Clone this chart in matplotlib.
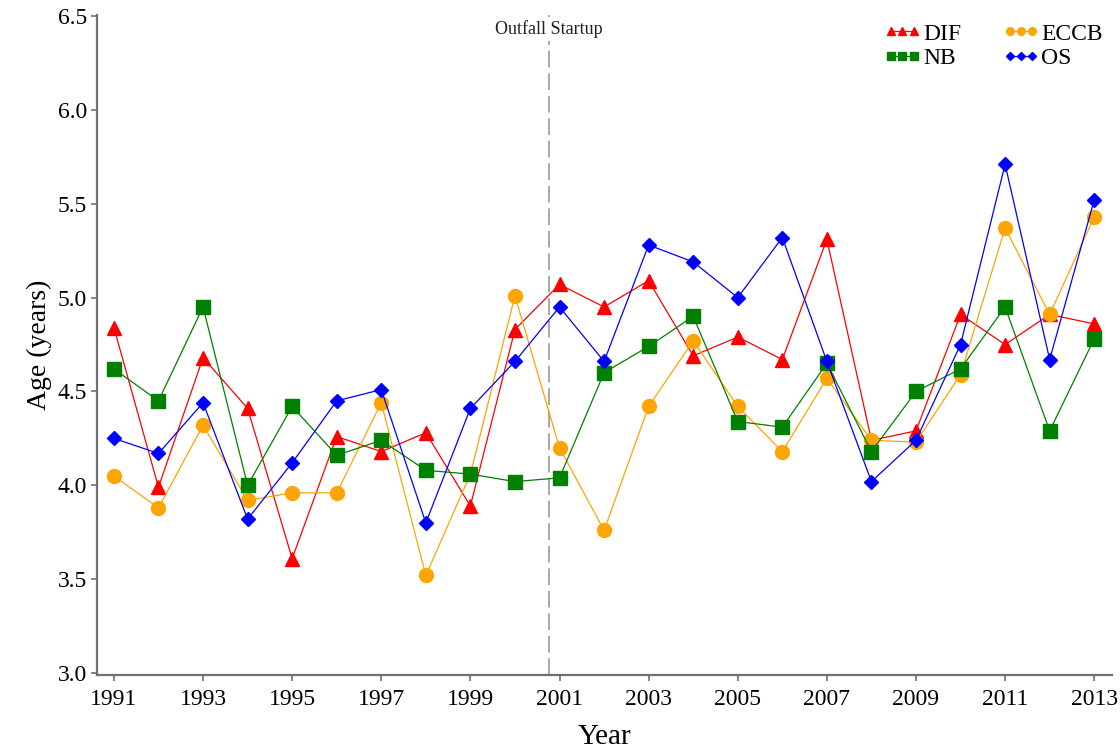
#!/usr/bin/env python3
"""mean age by station, 1991-2013"""
import numpy as np
import matplotlib
matplotlib.use("Agg")
import matplotlib.pyplot as plt
from matplotlib.lines import Line2D
from matplotlib.legend_handler import HandlerLine2D

years = np.arange(1991, 2014)

dif = [4.84, 3.99, 4.68, 4.41, 3.61, 4.26, 4.18, 4.28, 3.89, 4.83, 5.07, 4.95,
       5.09, 4.69, 4.79, 4.67, 5.31, 4.24, 4.29, 4.91, 4.75, 4.91, 4.86]
eccb = [4.05, 3.88, 4.32, 3.92, 3.96, 3.96, 4.44, 3.52, 4.06, 5.01, 4.20, 3.76,
        4.42, 4.77, 4.42, 4.18, 4.57, 4.24, 4.23, 4.59, 5.37, 4.91, 5.43]
nb = [4.62, 4.45, 4.95, 4.00, 4.42, 4.16, 4.24, 4.08, 4.06, 4.02, 4.04, 4.60,
      4.74, 4.90, 4.34, 4.31, 4.65, 4.18, 4.50, 4.62, 4.95, 4.29, 4.78]
os_ = [4.25, 4.17, 4.44, 3.82, 4.12, 4.45, 4.51, 3.80, 4.41, 4.66, 4.95, 4.66,
       5.28, 5.19, 5.00, 5.32, 4.66, 4.02, 4.24, 4.75, 5.71, 4.67, 5.52]

startup = 2000.77

plt.rcParams["font.family"] = ["Liberation Serif", "DejaVu Serif"]

fig = plt.figure(figsize=(11.2, 7.5), dpi=100)
ax = fig.add_axes([0.0866, 0.1, 0.9063, 0.88])

h_dif, = ax.plot(years, dif, color="red", marker="^", ms=10.5, lw=0.9,
                 label="DIF", zorder=3)
h_eccb, = ax.plot(years, eccb, color="orange", marker="o", ms=10, lw=0.9,
                  label="ECCB", zorder=3)
h_nb, = ax.plot(years, nb, color="green", marker="s", ms=9.5, lw=0.9,
                label="NB", zorder=3)
h_os, = ax.plot(years, os_, color="blue", marker="D", ms=7.5, lw=0.9,
                label="OS", zorder=3)

# vertical marker for the outfall start, label sits on a white patch
ax.axvline(startup, color="#999999", lw=1.2, ls=(0, (10, 3.5)), zorder=1)
ax.text(startup, 6.43, "Outfall Startup", ha="center", va="center",
        fontsize=13, color="#222222",
        bbox=dict(facecolor="white", edgecolor="none", pad=2), zorder=2)

ax.set_xlim(1990.62, 2013.4)
ax.set_ylim(2.99, 6.505)
ax.set_xticks(np.arange(1991, 2014, 2))
ax.set_yticks(np.arange(3.0, 6.51, 0.5))
ax.yaxis.set_major_formatter(matplotlib.ticker.FormatStrFormatter("%.1f"))

for side in ["top", "right"]:
    ax.spines[side].set_visible(False)
for side in ["left", "bottom"]:
    ax.spines[side].set_color("#707070")
    ax.spines[side].set_linewidth(1.6)
ax.tick_params(axis="both", colors="#707070", labelcolor="black",
               labelsize=17, length=4, width=1.2)
ax.tick_params(axis="x", pad=6)
ax.tick_params(axis="y", pad=3)

ax.set_xlabel("Year", fontsize=21, labelpad=10)
ax.set_ylabel("Age (years)", fontsize=20, labelpad=4)

# three small markers per legend key, spread to the ends of the line
ax.legend(handles=[h_dif, h_nb, h_eccb, h_os], ncol=2, frameon=False,
          loc="upper right", bbox_to_anchor=(1.012, 1.02), fontsize=17,
          numpoints=3, markerscale=0.55, handlelength=1.05,
          handletextpad=0.35, columnspacing=2.0, labelspacing=0.12,
          handler_map={Line2D: HandlerLine2D(marker_pad=0.05)})

fig.savefig("out.png", dpi=100)
